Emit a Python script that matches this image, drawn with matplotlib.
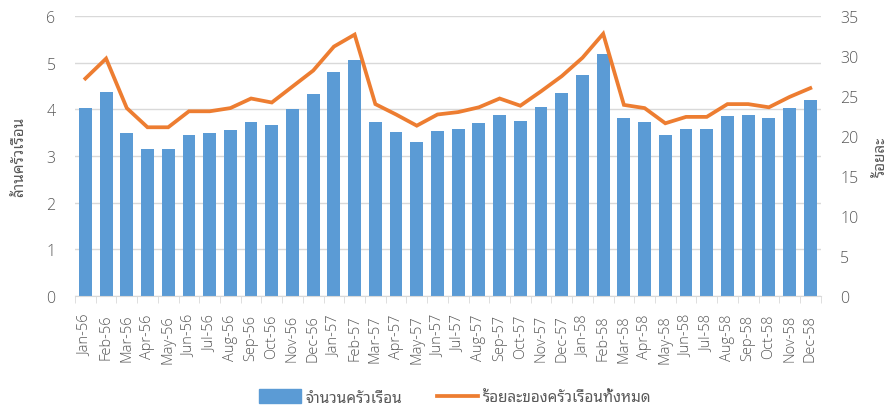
import numpy as np
import matplotlib
matplotlib.use('Agg')
import matplotlib.pyplot as plt
from matplotlib.lines import Line2D
from matplotlib.patches import Patch

months = ['Jan', 'Feb', 'Mar', 'Apr', 'May', 'Jun',
          'Jul', 'Aug', 'Sep', 'Oct', 'Nov', 'Dec']
years = ['56', '57', '58']
labels = [f'{m}-{y}' for y in years for m in months]

# จำนวนครัวเรือน [ล้าน]
households = [4.03, 4.38, 3.49, 3.15, 3.15, 3.46, 3.49, 3.56, 3.72, 3.67, 4.01, 4.34,
              4.81, 5.05, 3.73, 3.52, 3.31, 3.54, 3.59, 3.70, 3.87, 3.75, 4.05, 4.35,
              4.74, 5.20, 3.81, 3.74, 3.46, 3.58, 3.59, 3.85, 3.87, 3.81, 4.02, 4.21]
# ร้อยละของครัวเรือนทั้งหมด
percent = [27.2, 29.7, 23.5, 21.1, 21.1, 23.1, 23.1, 23.5, 24.7, 24.2, 26.2, 28.2,
           31.2, 32.7, 24.0, 22.7, 21.3, 22.7, 23.0, 23.6, 24.7, 23.8, 25.6, 27.5,
           29.8, 32.8, 23.9, 23.5, 21.6, 22.4, 22.4, 24.0, 24.0, 23.6, 24.9, 26.0]

bar_color = '#5B9BD5'
line_color = '#ED7D31'
text_color = '#595959'
grid_color = '#D9D9D9'
thai = ['Noto Sans Thai Looped', 'DejaVu Sans']

plt.rcParams['font.family'] = ['Open Sans', 'Noto Sans Thai Looped', 'DejaVu Sans']

fig = plt.figure(figsize=(8.93, 4.10), dpi=100)
ax = fig.add_axes([0.084, 0.276, 0.835, 0.682])
ax2 = ax.twinx()

x = np.arange(len(labels))
ax.bar(x, households, width=0.62, color=bar_color, zorder=2)
ax2.plot(x, percent, color=line_color, lw=2.7, solid_joinstyle='miter', zorder=3)

ax.set_xlim(-0.5, len(labels) - 0.5)
ax.set_ylim(0, 6)
ax2.set_ylim(0, 35)
ax.set_yticks(range(0, 7))
ax2.set_yticks(range(0, 36, 5))
ax.yaxis.grid(True, color=grid_color, lw=1, zorder=0)
ax.set_axisbelow(True)

ax.set_xticks(x)
ax.set_xticklabels(labels, rotation=90, fontsize=10.5, color=text_color, fontweight='light')
ax.set_xticks(np.arange(-0.5, len(labels)), minor=True)
ax.tick_params(axis='x', which='major', length=0, pad=13)
ax.tick_params(axis='x', which='minor', length=5, color=grid_color)
for a in (ax, ax2):
    a.tick_params(axis='y', length=0, labelsize=11.5, labelcolor=text_color, pad=14)
    for t in a.get_yticklabels():
        t.set_fontweight('light')
    for s in a.spines.values():
        s.set_visible(False)
ax.spines['bottom'].set_visible(True)
ax.spines['bottom'].set_color(grid_color)

fig.text(0.022, 0.617, 'ล้านครัวเรือน', rotation=90, ha='center', va='center',
         fontsize=11, color=text_color, family=thai, fontweight='light')
fig.text(0.988, 0.617, 'ร้อยละ', rotation=90, ha='center', va='center',
         fontsize=11, color=text_color, family=thai, fontweight='light')

handles = [Patch(color=bar_color), Line2D([], [], color=line_color, lw=2.7)]
leg = fig.legend(handles, ['จำนวนครัวเรือน', 'ร้อยละของครัวเรือนทั้งหมด'],
                 loc='center', bbox_to_anchor=(0.51, 0.028), ncol=2, frameon=False,
                 prop={'family': thai, 'size': 11, 'weight': 'light'}, labelcolor=text_color,
                 columnspacing=2.3, handlelength=2.7, handleheight=1.0, handletextpad=0.3)

fig.savefig('out.png', dpi=100)
